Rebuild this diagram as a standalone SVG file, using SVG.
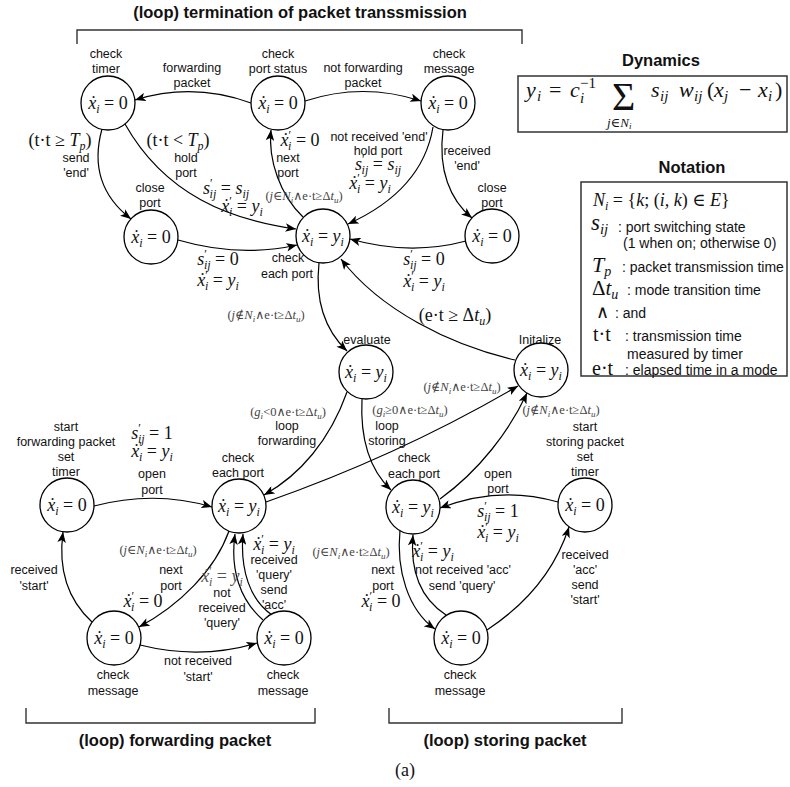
<svg xmlns="http://www.w3.org/2000/svg" width="790" height="787" viewBox="0 0 790 787">
<style>
.t{font-family:"Liberation Sans",Arial,sans-serif;font-size:12.5px;fill:#111;text-anchor:middle}
.h{font-family:"Liberation Sans",Arial,sans-serif;font-size:16.5px;font-weight:bold;fill:#111;text-anchor:middle}
.n{font-family:"Liberation Sans",Arial,sans-serif;font-size:14px;fill:#111}
.m{font-family:"Liberation Serif","DejaVu Serif",serif;font-size:18px;fill:#111;text-anchor:middle}
.g{fill:#555}
.f{font-family:"Liberation Serif","DejaVu Serif",serif;font-size:22px;fill:#111}
.fs{font-family:"Liberation Serif","DejaVu Serif",serif;font-size:15px;fill:#111}
.fn{font-family:"Liberation Serif","DejaVu Serif",serif;font-size:18px;fill:#111}
.c{font-family:"Liberation Serif","DejaVu Serif",serif;font-size:12.5px;fill:#444;text-anchor:middle}
.i{font-style:italic}
.sb{font-size:12px}
.s2{font-size:9px}
.node circle{fill:#fff;stroke:#000;stroke-width:1.3}
.edge path{fill:none;stroke:#000;stroke-width:1.2;marker-end:url(#ah)}
.br{fill:none;stroke:#333;stroke-width:1.4}
.box{fill:none;stroke:#333;stroke-width:1.5}
</style>
<defs>
<marker id="ah" viewBox="0 0 10 8" refX="10" refY="4" markerWidth="11" markerHeight="8.5" markerUnits="userSpaceOnUse" orient="auto">
<path d="M0,0 L10,4 L0,8 L2.5,4 z" fill="#000"/>
</marker>
</defs>
<rect width="790" height="787" fill="#fff"/>

<g id="frames">
<text class="h" x="300" y="18">(loop) termination of packet transsmission</text>
<path class="br" d="M77,44 V30 H522 V44"/>
<path class="br" d="M26,708 V723 H315 V708"/>
<path class="br" d="M389,708 V723 H622 V708"/>
<text class="h" x="175" y="746">(loop) forwarding packet</text>
<text class="h" x="505" y="746">(loop) storing packet</text>
<text x="405" y="776" style="font-family:'Liberation Serif',serif;font-size:18px;text-anchor:middle;fill:#111">(a)</text>
</g>

<g id="dynamics">
<text class="h" x="661" y="66">Dynamics</text>
<rect class="box" x="518" y="76" width="269" height="56"/>
<text class="f i" x="526" y="97">y</text><text class="fs i" x="537" y="101">i</text>
<text class="f" x="549" y="97">=</text>
<text class="f i" x="570" y="97">c</text><text class="fs" x="580" y="88">−1</text><text class="fs i" x="580" y="103">i</text>
<text class="f" x="612" y="110" style="font-size:40px">Σ</text>
<text class="fs i" x="607" y="127" style="font-size:13px">j<tspan style="font-style:normal">∈</tspan>N<tspan class="s2" dy="2">i</tspan></text>
<text class="f i" x="651" y="97">s</text><text class="fs i" x="660" y="101">ij</text>
<text class="f i" x="679" y="97">w</text><text class="fs i" x="694" y="101">ij</text>
<text class="f" x="707" y="97">(</text><text class="f i" x="714" y="97">x</text><text class="fs i" x="724" y="101">j</text>
<text class="f" x="739" y="97">−</text>
<text class="f i" x="758" y="97">x</text><text class="fs i" x="768" y="101">i</text><text class="f" x="775" y="97">)</text>
</g>

<g id="notation">
<text class="h" x="692" y="173">Notation</text>
<rect class="box" x="581" y="182" width="206" height="194"/>
<text class="fn" x="593" y="206"><tspan class="i">N</tspan><tspan class="i sb" dy="4">i</tspan><tspan dy="-4"> = {</tspan><tspan class="i">k</tspan><tspan>; (</tspan><tspan class="i">i, k</tspan><tspan>) ∈ </tspan><tspan class="i">E</tspan><tspan>}</tspan></text>
<text class="fn i" x="591" y="230" style="font-size:23px">s<tspan dy="4" style="font-size:15px">ij</tspan></text>
<text class="n" x="618" y="232">: port switching state</text>
<text class="n" x="623" y="248">(1 when on; otherwise 0)</text>
<text class="fn i" x="592" y="272" style="font-size:22px">T<tspan dy="4" style="font-size:14px">p</tspan></text>
<text class="n" x="622" y="272">: packet transmission time</text>
<text class="fn" x="592" y="295" style="font-size:21px">Δ<tspan class="i">t</tspan><tspan class="i" dy="4" style="font-size:14px">u</tspan></text>
<text class="n" x="627" y="295">: mode transition time</text>
<text class="fn" x="596" y="318">∧</text>
<text class="n" x="615" y="318">: and</text>
<text class="fn" x="593" y="341" style="font-size:20px">t·t</text>
<text class="n" x="625" y="341">: transmission time</text>
<text class="n" x="627" y="359">measured by timer</text>
<text class="fn" x="592" y="375" style="font-size:20px">e·t</text>
<text class="n" x="625" y="375">: elapsed time in a mode</text>
</g>

<g id="connectors" class="edge">
<path d="M251,103 Q193,82 135,100"/>
<path d="M305,101 Q363,82 421,101"/>
<path d="M102,129 C92,165 100,195 131,219"/>
<path d="M125,124 C165,195 230,220 296,229"/>
<path d="M178,240 Q240,258 297,245"/>
<path d="M466,241 Q410,256 350,239"/>
<path d="M443,130 C438,170 450,200 472,218"/>
<path d="M433,127 C425,175 390,205 348,224"/>
<path d="M303,217 C280,195 268,160 271,130"/>
<path d="M319,263 C315,300 325,330 347,351"/>
<path d="M515,360 C450,345 380,310 341,259"/>
<path d="M347,392 C330,440 300,475 264,495"/>
<path d="M362,399 C360,440 370,470 391,490"/>
<path d="M266,502 Q400,455 518,386"/>
<path d="M440,499 C480,470 510,430 527,393"/>
<path d="M558,502 Q500,485 440,508"/>
<path d="M400,530 C396,570 408,610 435,629"/>
<path d="M446,615 C420,598 410,570 413,535"/>
<path d="M487,630 C525,605 555,570 569,527"/>
<path d="M94,506 Q155,490 212,507"/>
<path d="M92,622 C68,600 58,570 63,532"/>
<path d="M229,531 C215,570 180,605 139,627"/>
<path d="M140,645 Q200,660 257,643"/>
<path d="M263,620 C240,600 230,570 235,534"/>
<path d="M272,615 C250,600 240,570 243,534"/>
</g>

<g id="connector-labels">
<text class="t" x="192" y="72">forwarding</text><text class="t" x="192" y="87">packet</text>
<text class="t" x="363" y="72">not forwarding</text><text class="t" x="363" y="87">packet</text>
<text class="m" x="60" y="146">(t·t ≥ <tspan class="i">T</tspan><tspan class="i sb" dy="4">p</tspan><tspan dy="-4">)</tspan></text>
<text class="t" x="76" y="162">send</text><text class="t" x="76" y="177">'end'</text>
<text class="m" x="178" y="146">(t·t &lt; <tspan class="i">T</tspan><tspan class="i sb" dy="4">p</tspan><tspan dy="-4">)</tspan></text>
<text class="t" x="186" y="162">hold</text><text class="t" x="186" y="177">port</text>
<text class="m" x="300" y="146"><tspan class="i">ẋ</tspan><tspan class="sb" dy="-7">′</tspan><tspan class="i sb" dx="-3" dy="11">i</tspan><tspan dy="-4"> = 0</tspan></text>
<text class="t" x="288" y="162">next</text><text class="t" x="288" y="177">port</text>
<text class="c" x="304" y="200">(<tspan class="i">j</tspan>∈<tspan class="i">N</tspan><tspan class="i s2" dy="3">i</tspan><tspan dy="-3">∧e·t≥Δ</tspan><tspan class="i">t</tspan><tspan class="i s2" dy="3">u</tspan><tspan dy="-3">)</tspan></text>
<text class="m" x="226" y="194"><tspan class="i">s</tspan><tspan class="sb" dy="-7">′</tspan><tspan class="i sb" dx="-3" dy="11">ij</tspan><tspan dy="-4"> = </tspan><tspan class="i">s</tspan><tspan class="i sb" dy="4">ij</tspan></text>
<text class="m" x="242" y="212"><tspan class="i">ẋ</tspan><tspan class="sb" dy="-7">′</tspan><tspan class="i sb" dx="-3" dy="11">i</tspan><tspan dy="-4"> = </tspan><tspan class="i">y</tspan><tspan class="i sb" dy="4">i</tspan></text>
<text class="t" x="379" y="141">not received 'end'</text><text class="t" x="378" y="155">hold port</text>
<text class="m" x="378" y="170"><tspan class="i">s</tspan><tspan class="sb" dy="-7">′</tspan><tspan class="i sb" dx="-3" dy="11">ij</tspan><tspan dy="-4"> = </tspan><tspan class="i">s</tspan><tspan class="i sb" dy="4">ij</tspan></text>
<text class="m" x="370" y="189"><tspan class="i">ẋ</tspan><tspan class="sb" dy="-7">′</tspan><tspan class="i sb" dx="-3" dy="11">i</tspan><tspan dy="-4"> = </tspan><tspan class="i">y</tspan><tspan class="i sb" dy="4">i</tspan></text>
<text class="t" x="467" y="155">received</text><text class="t" x="467" y="170">'end'</text>
<text class="m" x="218" y="265"><tspan class="i">s</tspan><tspan class="sb" dy="-7">′</tspan><tspan class="i sb" dx="-3" dy="11">ij</tspan><tspan dy="-4"> = 0</tspan></text>
<text class="m" x="218" y="286"><tspan class="i">ẋ</tspan><tspan class="sb" dy="-7">′</tspan><tspan class="i sb" dx="-3" dy="11">i</tspan><tspan dy="-4"> = </tspan><tspan class="i">y</tspan><tspan class="i sb" dy="4">i</tspan></text>
<text class="m" x="424" y="265"><tspan class="i">s</tspan><tspan class="sb" dy="-7">′</tspan><tspan class="i sb" dx="-3" dy="11">ij</tspan><tspan dy="-4"> = 0</tspan></text>
<text class="m" x="424" y="287"><tspan class="i">ẋ</tspan><tspan class="sb" dy="-7">′</tspan><tspan class="i sb" dx="-3" dy="11">i</tspan><tspan dy="-4"> = </tspan><tspan class="i">y</tspan><tspan class="i sb" dy="4">i</tspan></text>
<text class="c" x="266" y="319">(<tspan class="i">j</tspan>∉<tspan class="i">N</tspan><tspan class="i s2" dy="3">i</tspan><tspan dy="-3">∧e·t≥Δ</tspan><tspan class="i">t</tspan><tspan class="i s2" dy="3">u</tspan><tspan dy="-3">)</tspan></text>
<text class="m" x="455" y="321">(e·t ≥ Δ<tspan class="i">t</tspan><tspan class="i sb" dy="4">u</tspan><tspan dy="-4">)</tspan></text>
<text class="c" x="288" y="416">(<tspan class="i">g</tspan><tspan class="i s2" dy="3">i</tspan><tspan dy="-3">&lt;0∧e·t≥Δ</tspan><tspan class="i">t</tspan><tspan class="i s2" dy="3">u</tspan><tspan dy="-3">)</tspan></text>
<text class="t" x="287" y="430">loop</text><text class="t" x="287" y="445">forwarding</text>
<text class="c" x="410" y="414">(<tspan class="i">g</tspan><tspan class="i s2" dy="3">i</tspan><tspan dy="-3">≥0∧e·t≥Δ</tspan><tspan class="i">t</tspan><tspan class="i s2" dy="3">u</tspan><tspan dy="-3">)</tspan></text>
<text class="t" x="387" y="430">loop</text><text class="t" x="387" y="445">storing</text>
<text class="c" x="462" y="391">(<tspan class="i">j</tspan>∉<tspan class="i">N</tspan><tspan class="i s2" dy="3">i</tspan><tspan dy="-3">∧e·t≥Δ</tspan><tspan class="i">t</tspan><tspan class="i s2" dy="3">u</tspan><tspan dy="-3">)</tspan></text>
<text class="c" x="561" y="414">(<tspan class="i">j</tspan>∉<tspan class="i">N</tspan><tspan class="i s2" dy="3">i</tspan><tspan dy="-3">∧e·t≥Δ</tspan><tspan class="i">t</tspan><tspan class="i s2" dy="3">u</tspan><tspan dy="-3">)</tspan></text>
<text class="m" x="152" y="439"><tspan class="i">s</tspan><tspan class="sb" dy="-7">′</tspan><tspan class="i sb" dx="-3" dy="11">ij</tspan><tspan dy="-4"> = 1</tspan></text>
<text class="m" x="152" y="457"><tspan class="i">ẋ</tspan><tspan class="sb" dy="-7">′</tspan><tspan class="i sb" dx="-3" dy="11">i</tspan><tspan dy="-4"> = </tspan><tspan class="i">y</tspan><tspan class="i sb" dy="4">i</tspan></text>
<text class="t" x="152" y="478">open</text><text class="t" x="152" y="494">port</text>
<text class="t" x="498" y="478">open</text><text class="t" x="498" y="493">port</text>
<text class="m" x="498" y="517"><tspan class="i">s</tspan><tspan class="sb" dy="-7">′</tspan><tspan class="i sb" dx="-3" dy="11">ij</tspan><tspan dy="-4"> = 1</tspan></text>
<text class="m" x="498" y="538"><tspan class="i">ẋ</tspan><tspan class="sb" dy="-7">′</tspan><tspan class="i sb" dx="-3" dy="11">i</tspan><tspan dy="-4"> = </tspan><tspan class="i">y</tspan><tspan class="i sb" dy="4">i</tspan></text>
<text class="c" x="158" y="554">(<tspan class="i">j</tspan>∈<tspan class="i">N</tspan><tspan class="i s2" dy="3">i</tspan><tspan dy="-3">∧e·t≥Δ</tspan><tspan class="i">t</tspan><tspan class="i s2" dy="3">u</tspan><tspan dy="-3">)</tspan></text>
<text class="t" x="171" y="574">next</text><text class="t" x="171" y="590">port</text>
<text class="m" x="143" y="607"><tspan class="i">ẋ</tspan><tspan class="sb" dy="-7">′</tspan><tspan class="i sb" dx="-3" dy="11">i</tspan><tspan dy="-4"> = 0</tspan></text>
<text class="m g" x="222" y="582"><tspan class="i">ẋ</tspan><tspan class="sb" dy="-7">′</tspan><tspan class="i sb" dx="-3" dy="11">i</tspan><tspan dy="-4"> = </tspan><tspan class="i">y</tspan><tspan class="i sb" dy="4">i</tspan></text>
<text class="t" x="222" y="597">not</text><text class="t" x="222" y="612">received</text><text class="t" x="222" y="627">'query'</text>
<text class="m" x="274" y="550"><tspan class="i">ẋ</tspan><tspan class="sb" dy="-7">′</tspan><tspan class="i sb" dx="-3" dy="11">i</tspan><tspan dy="-4"> = </tspan><tspan class="i">y</tspan><tspan class="i sb" dy="4">i</tspan></text>
<text class="t" x="274" y="564">received</text><text class="t" x="274" y="579">'query'</text><text class="t" x="274" y="594">send</text><text class="t" x="274" y="609">'acc'</text>
<text class="c" x="351" y="556">(<tspan class="i">j</tspan>∈<tspan class="i">N</tspan><tspan class="i s2" dy="3">i</tspan><tspan dy="-3">∧e·t≥Δ</tspan><tspan class="i">t</tspan><tspan class="i s2" dy="3">u</tspan><tspan dy="-3">)</tspan></text>
<text class="t" x="383" y="574">next</text><text class="t" x="383" y="590">port</text>
<text class="m" x="381" y="607"><tspan class="i">ẋ</tspan><tspan class="sb" dy="-7">′</tspan><tspan class="i sb" dx="-3" dy="11">i</tspan><tspan dy="-4"> = 0</tspan></text>
<text class="m" x="433" y="557"><tspan class="i">ẋ</tspan><tspan class="sb" dy="-7">′</tspan><tspan class="i sb" dx="-3" dy="11">i</tspan><tspan dy="-4"> = </tspan><tspan class="i">y</tspan><tspan class="i sb" dy="4">i</tspan></text>
<text class="t" x="463" y="574">not received 'acc'</text><text class="t" x="462" y="590">send 'query'</text>
<text class="t" x="585" y="559">received</text><text class="t" x="585" y="574">'acc'</text><text class="t" x="585" y="589">send</text><text class="t" x="585" y="604">'start'</text>
<text class="t" x="34" y="574">received</text><text class="t" x="34" y="590">'start'</text>
<text class="t" x="198" y="665">not received</text><text class="t" x="198" y="681">'start'</text>
</g>

<g id="n-check-timer" class="node">
<text class="t" x="106" y="58">check</text><text class="t" x="106" y="73">timer</text>
<circle cx="108" cy="103" r="27"/>
<text class="m" x="108" y="109"><tspan class="i">ẋ</tspan><tspan class="i sb" dy="4">i</tspan><tspan dy="-4"> = 0</tspan></text>
</g>
<g id="n-check-port-status" class="node">
<text class="t" x="278" y="58">check</text><text class="t" x="278" y="73">port status</text>
<circle cx="278" cy="103" r="27"/>
<text class="m" x="278" y="109"><tspan class="i">ẋ</tspan><tspan class="i sb" dy="4">i</tspan><tspan dy="-4"> = 0</tspan></text>
</g>
<g id="n-check-message-top" class="node">
<text class="t" x="449" y="58">check</text><text class="t" x="449" y="73">message</text>
<circle cx="448" cy="103" r="27"/>
<text class="m" x="448" y="109"><tspan class="i">ẋ</tspan><tspan class="i sb" dy="4">i</tspan><tspan dy="-4"> = 0</tspan></text>
</g>
<g id="n-close-port-left" class="node">
<text class="t" x="150" y="192">close</text><text class="t" x="150" y="207">port</text>
<circle cx="151" cy="237" r="27"/>
<text class="m" x="151" y="243"><tspan class="i">ẋ</tspan><tspan class="i sb" dy="4">i</tspan><tspan dy="-4"> = 0</tspan></text>
</g>
<g id="n-check-each-port-top" class="node">
<text class="t" x="288" y="262">check</text><text class="t" x="287" y="278">each port</text>
<circle cx="323" cy="236" r="27"/>
<text class="m" x="323" y="242"><tspan class="i">ẋ</tspan><tspan class="i sb" dy="4">i</tspan><tspan dy="-4"> = </tspan><tspan class="i">y</tspan><tspan class="i sb" dy="4">i</tspan></text>
</g>
<g id="n-close-port-right" class="node">
<text class="t" x="492" y="192">close</text><text class="t" x="492" y="207">port</text>
<circle cx="492" cy="236" r="27"/>
<text class="m" x="492" y="242"><tspan class="i">ẋ</tspan><tspan class="i sb" dy="4">i</tspan><tspan dy="-4"> = 0</tspan></text>
</g>
<g id="n-evaluate" class="node">
<text class="t" x="367" y="344">evaluate</text>
<circle cx="366" cy="372" r="27"/>
<text class="m" x="366" y="378"><tspan class="i">ẋ</tspan><tspan class="i sb" dy="4">i</tspan><tspan dy="-4"> = </tspan><tspan class="i">y</tspan><tspan class="i sb" dy="4">i</tspan></text>
</g>
<g id="n-initalize" class="node">
<text class="t" x="540" y="344">Initalize</text>
<circle cx="541" cy="370" r="27"/>
<text class="m" x="541" y="376"><tspan class="i">ẋ</tspan><tspan class="i sb" dy="4">i</tspan><tspan dy="-4"> = </tspan><tspan class="i">y</tspan><tspan class="i sb" dy="4">i</tspan></text>
</g>
<g id="n-start-forwarding" class="node">
<text class="t" x="66" y="431">start</text><text class="t" x="66" y="446">forwarding packet</text><text class="t" x="66" y="461">set</text><text class="t" x="66" y="476">timer</text>
<circle cx="67" cy="505" r="27"/>
<text class="m" x="67" y="511"><tspan class="i">ẋ</tspan><tspan class="i sb" dy="4">i</tspan><tspan dy="-4"> = 0</tspan></text>
</g>
<g id="n-check-each-port-fwd" class="node">
<text class="t" x="238" y="462">check</text><text class="t" x="238" y="477">each port</text>
<circle cx="239" cy="506" r="27"/>
<text class="m" x="239" y="512"><tspan class="i">ẋ</tspan><tspan class="i sb" dy="4">i</tspan><tspan dy="-4"> = </tspan><tspan class="i">y</tspan><tspan class="i sb" dy="4">i</tspan></text>
</g>
<g id="n-check-each-port-sto" class="node">
<text class="t" x="414" y="462">check</text><text class="t" x="414" y="478">each port</text>
<circle cx="413" cy="507" r="27"/>
<text class="m" x="413" y="513"><tspan class="i">ẋ</tspan><tspan class="i sb" dy="4">i</tspan><tspan dy="-4"> = </tspan><tspan class="i">y</tspan><tspan class="i sb" dy="4">i</tspan></text>
</g>
<g id="n-start-storing" class="node">
<text class="t" x="585" y="431">start</text><text class="t" x="585" y="446">storing packet</text><text class="t" x="585" y="461">set</text><text class="t" x="585" y="476">timer</text>
<circle cx="585" cy="505" r="27"/>
<text class="m" x="585" y="511"><tspan class="i">ẋ</tspan><tspan class="i sb" dy="4">i</tspan><tspan dy="-4"> = 0</tspan></text>
</g>
<g id="n-check-message-fwd1" class="node">
<circle cx="114" cy="638" r="27"/>
<text class="m" x="114" y="644"><tspan class="i">ẋ</tspan><tspan class="i sb" dy="4">i</tspan><tspan dy="-4"> = 0</tspan></text>
<text class="t" x="113" y="679">check</text><text class="t" x="113" y="695">message</text>
</g>
<g id="n-check-message-fwd2" class="node">
<circle cx="284" cy="638" r="27"/>
<text class="m" x="284" y="644"><tspan class="i">ẋ</tspan><tspan class="i sb" dy="4">i</tspan><tspan dy="-4"> = 0</tspan></text>
<text class="t" x="283" y="679">check</text><text class="t" x="283" y="695">message</text>
</g>
<g id="n-check-message-sto" class="node">
<circle cx="461" cy="638" r="27"/>
<text class="m" x="461" y="644"><tspan class="i">ẋ</tspan><tspan class="i sb" dy="4">i</tspan><tspan dy="-4"> = 0</tspan></text>
<text class="t" x="460" y="679">check</text><text class="t" x="460" y="695">message</text>
</g>
</svg>
